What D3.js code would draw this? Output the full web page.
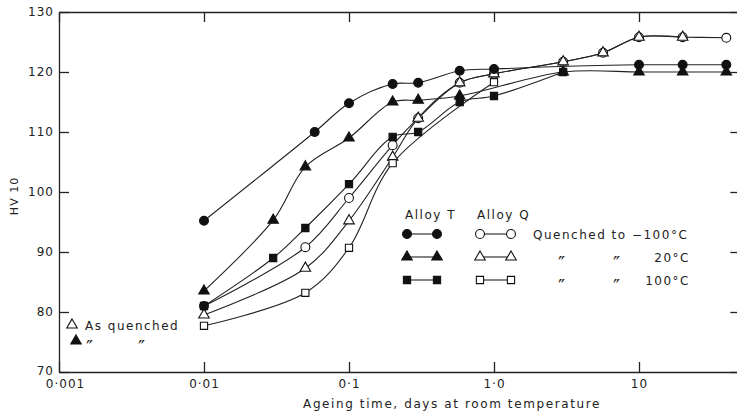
<!DOCTYPE html>
<html><head><meta charset="utf-8">
<script src="https://cdn.jsdelivr.net/npm/d3@7"></script>
<style>
html,body{margin:0;padding:0;background:#fff;}
svg text{font-family:"DejaVu Sans",sans-serif;fill:#222;}
</style></head>
<body><svg id="c" width="737" height="417"></svg>
<script>
// ---- data ----
const xTicks = [0.001, 0.01, 0.1, 1, 10];
const xTickLabels = ["0·001", "0·01", "0·1", "1·0", "10"];
const yTicks = [70, 80, 90, 100, 110, 120, 130];

const tM100Time = [0.01, 0.058, 0.1, 0.2, 0.3, 0.58, 1.0, 10, 20, 40];
const tM100HV   = [95.2, 110, 114.8, 118, 118.2, 120.2, 120.5, 121.2, 121.2, 121.2];
const t20Time = [0.01, 0.03, 0.05, 0.1, 0.2, 0.3, 0.58, 3, 10, 20, 40];
const t20HV   = [83.5, 95.3, 104.2, 109, 115, 115.3, 116, 120, 120, 120, 120];
const t100Time = [0.01, 0.03, 0.05, 0.1, 0.2, 0.3, 0.58, 1.0, 3];
const t100HV   = [81, 89, 94, 101.3, 109.2, 110, 115, 116, 120];
const qM100Time = [0.01, 0.05, 0.1, 0.2, 0.3, 0.58, 1.0, 3, 5.65, 10, 20, 40];
const qM100HV   = [81, 90.8, 99, 107.8, 112.3, 118.2, 119.7, 121.7, 123.2, 125.8, 125.8, 125.7];
const q20Time = [0.01, 0.05, 0.1, 0.2, 0.3, 0.58, 1.0, 3, 5.65, 10, 20];
const q20HV   = [79.5, 87.3, 95.2, 105.8, 112.3, 118.2, 119.7, 121.7, 123.2, 125.8, 125.8];
const q100Time = [0.01, 0.05, 0.1, 0.2, 1.0];
const q100HV   = [77.7, 83.2, 90.7, 104.8, 118.3];

const legendHeaders = ["Alloy T", "Alloy Q"];
const legendLabels = ["Quenched to −100°C", "20°C", "100°C"];

// ---- chart ----
const svg = d3.select("#c");
const x = d3.scaleLog().domain([0.001, 50]).range([59, 59 + 145 * Math.log10(50000)]);
const y = d3.scaleLinear().domain([70, 130]).range([372, 12]);

const series = [
  {t: qM100Time, v: qM100HV, shape: "circle", filled: false},
  {t: q20Time, v: q20HV, shape: "triangle", filled: false},
  {t: q100Time, v: q100HV, shape: "square", filled: false},
  {t: tM100Time, v: tM100HV, shape: "circle", filled: true},
  {t: t20Time, v: t20HV, shape: "triangle", filled: true},
  {t: t100Time, v: t100HV, shape: "square", filled: true},
];

const symSize = {circle: 62, triangle: 48, square: 52};
const symType = {circle: d3.symbolCircle, triangle: d3.symbolTriangle, square: d3.symbolSquare};
function sym(shape){ return d3.symbol().type(symType[shape]).size(symSize[shape])(); }

// axes
const gB = svg.append("g").attr("transform", "translate(0,372)")
  .call(d3.axisBottom(x).tickValues(xTicks).tickSize(-10).tickSizeOuter(0).tickPadding(7)
    .tickFormat((d, i) => xTickLabels[i]));
const gT = svg.append("g").attr("transform", "translate(0,12)")
  .call(d3.axisTop(x).tickValues(xTicks).tickSize(-10).tickSizeOuter(0).tickFormat(""));
const gL = svg.append("g").attr("transform", "translate(59,0)")
  .call(d3.axisLeft(y).tickValues(yTicks).tickSize(-10).tickSizeOuter(0).tickPadding(5));
const gR = svg.append("g").attr("transform", "translate(" + x.range()[1] + ",0)")
  .call(d3.axisRight(y).tickValues(yTicks).tickSize(-10).tickSizeOuter(0).tickFormat(""));
[gB, gT, gL, gR].forEach(g => {
  g.selectAll("path,line").attr("stroke", "#222").attr("stroke-width", 1.3);
  g.selectAll("text").attr("font-size", 12).attr("letter-spacing", "1px")
    .attr("font-family", "DejaVu Sans, sans-serif").attr("fill", "#222");
});
gB.selectAll(".tick text").filter(d => d === 0.001).attr("dx", 6);
gL.selectAll(".tick text").filter(d => d === 70).attr("dy", "0.2em");

// axis titles
svg.append("text").attr("x", 452).attr("y", 408).attr("text-anchor", "middle")
  .attr("font-size", 12).attr("letter-spacing", "1.6px").text("Ageing time, days at room temperature");
svg.append("text").attr("transform", "translate(18,196) rotate(-90)").attr("text-anchor", "middle")
  .attr("font-size", 11).attr("letter-spacing", "1px").text("HV 10");

// lines
const line = d3.line().x(d => x(d[0])).y(d => y(d[1])).curve(d3.curveCatmullRom.alpha(0.5));
series.forEach(s => {
  const pts = s.t.map((t, i) => [t, s.v[i]]);
  svg.append("path").attr("d", line(pts)).attr("fill", "none")
    .attr("stroke", "#222").attr("stroke-width", 1.1);
});
// markers
series.forEach(s => {
  s.t.forEach((t, i) => {
    svg.append("path").attr("d", sym(s.shape))
      .attr("transform", "translate(" + x(t) + "," + y(s.v[i]) + ")")
      .attr("fill", s.filled ? "#111" : "#fff").attr("stroke", "#111").attr("stroke-width", 1.1);
  });
});

function ditto(px, py){
  svg.append("text").attr("x", px).attr("y", py + 12.5).attr("font-size", 19).text("″");
}

// legend
const lg = svg.append("g");
lg.append("text").attr("x", 405).attr("y", 219).attr("font-size", 12).attr("letter-spacing", "1.5px").text(legendHeaders[0]);
lg.append("text").attr("x", 477).attr("y", 219).attr("font-size", 12).attr("letter-spacing", "1.5px").text(legendHeaders[1]);
const rows = [{y: 234, shape: "circle"}, {y: 257, shape: "triangle"}, {y: 280, shape: "square"}];
rows.forEach((r, i) => {
  [[407, 437, true], [480, 511, false]].forEach(([a, b, f]) => {
    lg.append("line").attr("x1", a).attr("x2", b).attr("y1", r.y).attr("y2", r.y)
      .attr("stroke", "#222").attr("stroke-width", 1.1);
    [a, b].forEach(px => lg.append("path").attr("d", sym(r.shape))
      .attr("transform", "translate(" + px + "," + r.y + ")")
      .attr("fill", f ? "#111" : "#fff").attr("stroke", "#111").attr("stroke-width", 1.1));
  });
  if (i === 0) {
    lg.append("text").attr("x", 533).attr("y", r.y + 4.5).attr("font-size", 12)
      .attr("letter-spacing", "1.5px").text(legendLabels[0]);
  } else {
    ditto(558, r.y);
    ditto(613, r.y);
    lg.append("text").attr("x", 690).attr("y", r.y + 4.5).attr("font-size", 12).attr("text-anchor", "end")
      .attr("letter-spacing", "1.5px").text(legendLabels[i]);
  }
});

// "As quenched" note
svg.append("path").attr("d", sym("triangle")).attr("transform", "translate(72,325)")
  .attr("fill", "#fff").attr("stroke", "#111").attr("stroke-width", 1.1);
svg.append("text").attr("x", 85).attr("y", 329.5).attr("font-size", 12).attr("letter-spacing", "1.5px").text("As quenched");
svg.append("path").attr("d", sym("triangle")).attr("transform", "translate(76,341)")
  .attr("fill", "#111").attr("stroke", "#111").attr("stroke-width", 1.1);
ditto(86, 341);
ditto(138, 341);
</script></body></html>
